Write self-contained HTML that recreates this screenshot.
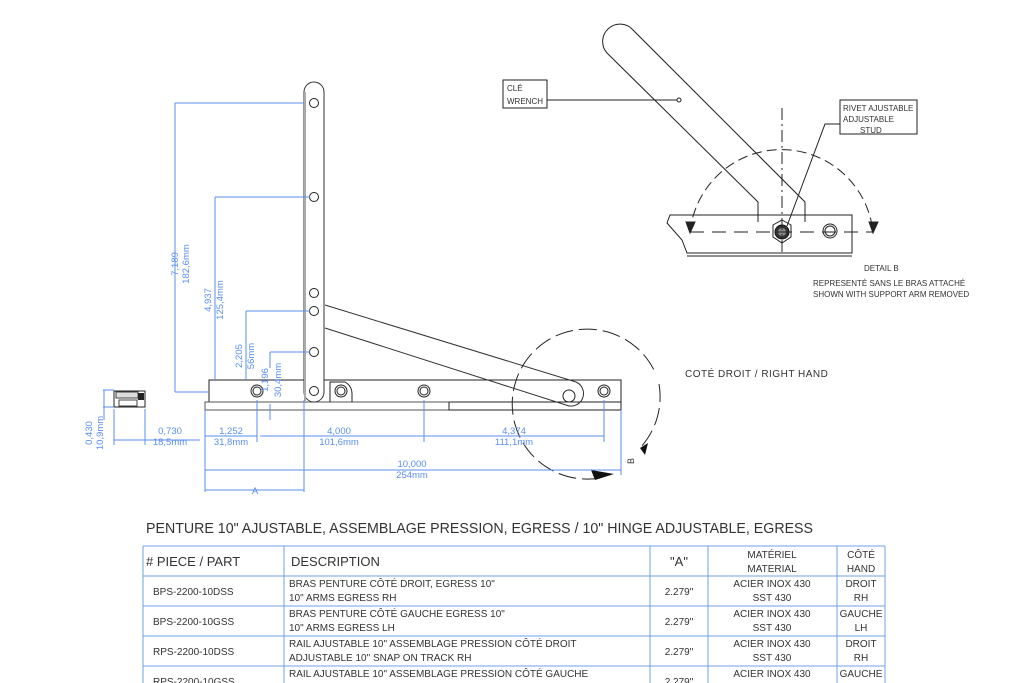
<!DOCTYPE html>
<html><head><meta charset="utf-8"><style>
html,body{margin:0;padding:0;background:#fff;width:1024px;height:683px;overflow:hidden}
svg{display:block}
.b{stroke:#5a8ef0;stroke-width:1;fill:none}
.bt{fill:#5a8ef0;font-family:"Liberation Sans",sans-serif;font-size:9.5px}
.k{stroke:#222;stroke-width:1;fill:none}
.tt{font-family:"Liberation Sans",sans-serif;fill:#333}
</style></head><body>
<svg width="1024" height="683" viewBox="0 0 1024 683" xmlns="http://www.w3.org/2000/svg">
<rect x="209" y="380" width="412" height="22" class="k"/>
<path d="M205 402 H449 V410 H205 Z" fill="#fff" stroke="#555"/>
<path d="M449 402 V410 M449 410 H621 V402" class="k" stroke="#777"/>
<path d="M304 92 A10 10 0 0 1 324 92 V392 A10 10 0 0 1 304 392 Z" fill="#fff" stroke="#333"/>
<line x1="305" y1="92" x2="305" y2="402" stroke="#aaa" stroke-width="2"/>
<g class="k">
<circle cx="314" cy="103" r="4.5"/><circle cx="314" cy="197" r="4.5"/><circle cx="314" cy="293" r="4.5"/>
<circle cx="314" cy="311" r="4.5"/><circle cx="314" cy="352" r="4.5"/><circle cx="314" cy="391" r="4.5"/>
</g>
<path d="M330 402 V382 H345 Q352 386 352 394 V402" class="k"/>
<path d="M325 305 L576 382 A12 12 0 0 1 566 405 L325 328" fill="none" stroke="#333"/>
<g class="k">
<circle cx="257" cy="391" r="6"/><circle cx="257" cy="391" r="4"/>
<circle cx="341" cy="391" r="6"/><circle cx="341" cy="391" r="4"/>
<circle cx="424" cy="391" r="6"/><circle cx="424" cy="391" r="4"/>
<circle cx="569" cy="396" r="6"/>
<circle cx="604" cy="391" r="6"/><circle cx="604" cy="391" r="4"/>
</g>
<path d="M600 478 A75 75 0 1 1 655 372" fill="none" stroke="#222" stroke-dasharray="18 6"/>
<path d="M659 384 A75 75 0 0 1 640 448" fill="none" stroke="#222" stroke-dasharray="18 6"/>
<path d="M591 470 L614 474 L595 480 Z" fill="#111"/>
<path d="M640 448 L645 455 L648 443 Z" fill="#111"/>
<text x="630" y="468" class="tt" font-size="9" transform="rotate(-90 630 464)">B</text>
<rect x="114" y="391" width="31" height="16" fill="#fff" stroke="#222"/>
<rect x="116" y="392" width="22" height="6" fill="#ddd" stroke="#444"/>
<rect x="119" y="400" width="18" height="6" fill="none" stroke="#444"/>
<rect x="138" y="393" width="6" height="7" fill="#222"/>

<g class="b">
<path d="M175 103 H304 M175 103 V392 M175 392 H209"/>
<path d="M215 197 H310 M215 197 V380"/>
<path d="M246 311 H310 M246 311 V380"/>
<path d="M270 352 H310 M270 352 V368 M270 404 V420"/>
<path d="M103 390 H114 M103 407 H114 M104 390 V420"/>
<path d="M114 409 V445 M145 409 V445 M114 440 H145 M145 440 H200"/>
<path d="M205 410 V492 M257 400 V442 M424 400 V442 M604 400 V442 M304 400 V492 M621 410 V475"/>
<path d="M205 436 H257 M260 436 H424 M424 436 H604"/>
<path d="M205 470 H621"/>
<path d="M205 490 H304"/>
</g>
<g class="bt">
<text x="178" y="264" transform="rotate(-90 178 264)" text-anchor="middle">7,189</text>
<text x="189" y="264" transform="rotate(-90 189 264)" text-anchor="middle">182,6mm</text>
<text x="211" y="300" transform="rotate(-90 211 300)" text-anchor="middle">4,937</text>
<text x="223" y="300" transform="rotate(-90 223 300)" text-anchor="middle">125,4mm</text>
<text x="242" y="356" transform="rotate(-90 242 356)" text-anchor="middle">2,205</text>
<text x="254" y="356" transform="rotate(-90 254 356)" text-anchor="middle">56mm</text>
<text x="268" y="380" transform="rotate(-90 268 380)" text-anchor="middle">1,196</text>
<text x="281" y="380" transform="rotate(-90 281 380)" text-anchor="middle">30,4mm</text>
<text x="92" y="433" transform="rotate(-90 92 433)" text-anchor="middle">0,430</text>
<text x="103" y="433" transform="rotate(-90 103 433)" text-anchor="middle">10,9mm</text>
<text x="170" y="434" text-anchor="middle">0,730</text>
<text x="170" y="445" text-anchor="middle">18,5mm</text>
<text x="231" y="434" text-anchor="middle">1,252</text>
<text x="231" y="445" text-anchor="middle">31,8mm</text>
<text x="339" y="434" text-anchor="middle">4,000</text>
<text x="339" y="445" text-anchor="middle">101,6mm</text>
<text x="514" y="434" text-anchor="middle">4,374</text>
<text x="514" y="445" text-anchor="middle">111,1mm</text>
<text x="412" y="467" text-anchor="middle">10,000</text>
<text x="412" y="478" text-anchor="middle">254mm</text>
<text x="255" y="494" text-anchor="middle">A</text>
</g>

<path d="M607 53 A17 17 0 0 1 633 30 L805 202 V220 M607 53 L758 202 V222" fill="none" stroke="#222"/>
<path d="M670 215 H852 V253 H687 L682 240 L667 223 Z" fill="#fff" stroke="#222"/>
<path d="M687 256 H852" stroke="#222"/>
<path d="M758 202 V222 M805 202 V222" stroke="#222"/>
<polygon points="782,220 791,225 791,237 782,243 773,237 773,225" fill="#fff" stroke="#222"/>
<circle cx="782" cy="232" r="7" fill="#333" stroke="#111"/>
<circle cx="782" cy="232" r="4" fill="#888"/>
<circle cx="830" cy="231" r="7" fill="none" stroke="#222"/><circle cx="830" cy="231" r="5" fill="none" stroke="#222"/>
<path d="M690 232 A92 92 0 0 1 873 232" fill="none" stroke="#222" stroke-dasharray="10 5"/>
<path d="M690 232 H873" fill="none" stroke="#222" stroke-dasharray="14 8"/>
<path d="M686 222 L690 233 L695 222 Z M869 222 L873 233 L878 222 Z" fill="#222" stroke="#222"/>
<path d="M782 108 V255" stroke="#222" stroke-dasharray="12 4 2 4"/>
<rect x="503" y="80" width="44" height="28" fill="#fff" stroke="#222"/>
<text x="507" y="91" class="tt" font-size="8" fill="#000">CLÉ</text>
<text x="507" y="104" class="tt" font-size="8" fill="#000">WRENCH</text>
<path d="M547 100 H677" stroke="#222"/><circle cx="679" cy="100" r="2" fill="#fff" stroke="#222"/>
<rect x="840" y="100" width="77" height="34" fill="#fff" stroke="#222"/>
<text x="843" y="111" class="tt" font-size="8" fill="#000">RIVET AJUSTABLE</text>
<text x="843" y="122" class="tt" font-size="8" fill="#000">ADJUSTABLE</text>
<text x="860" y="133" class="tt" font-size="8" fill="#000">STUD</text>
<path d="M840 124 H825 L787 226" fill="none" stroke="#222"/>
<text x="864" y="271" class="tt" font-size="8">DETAIL  B</text>
<text x="813" y="286" class="tt" font-size="8">REPRESENTÉ SANS LE BRAS ATTACHÉ</text>
<text x="813" y="297" class="tt" font-size="8">SHOWN WITH SUPPORT ARM REMOVED</text>
<text x="685" y="377" class="tt" font-size="10" letter-spacing="0.5">COTÉ DROIT / RIGHT HAND</text>

<text x="146" y="533" class="tt" font-size="14.5" fill="#222" textLength="667" lengthAdjust="spacingAndGlyphs">PENTURE 10" AJUSTABLE, ASSEMBLAGE PRESSION, EGRESS / 10" HINGE ADJUSTABLE, EGRESS</text>
<g stroke="#6fa0e8" stroke-width="1" fill="none">
<path d="M143 546 H885 M143 576 H885 M143 606 H885 M143 636 H885 M143 666 H885"/>
<path d="M143 546 V683 M284 546 V683 M650 546 V683 M708 546 V683 M837 546 V683 M885 546 V683"/>
</g>
<g class="tt" font-size="10" fill="#333">
<text x="146" y="566" font-size="13">#  PIECE  /  PART</text>
<text x="291" y="566" font-size="13">DESCRIPTION</text>
<text x="679" y="566" font-size="13" text-anchor="middle">"A"</text>
<text x="772" y="558" text-anchor="middle">MATÉRIEL</text>
<text x="772" y="572" text-anchor="middle">MATERIAL</text>
<text x="861" y="558" text-anchor="middle">CÔTÉ</text>
<text x="861" y="572" text-anchor="middle">HAND</text>

<text x="153" y="595">BPS-2200-10DSS</text>
<text x="289" y="587">BRAS PENTURE CÔTÉ DROIT, EGRESS 10"</text>
<text x="289" y="601">10" ARMS EGRESS  RH</text>
<text x="679" y="595" text-anchor="middle">2.279"</text>
<text x="772" y="587" text-anchor="middle">ACIER INOX 430</text>
<text x="772" y="601" text-anchor="middle">SST 430</text>
<text x="861" y="587" text-anchor="middle">DROIT</text>
<text x="861" y="601" text-anchor="middle">RH</text>

<text x="153" y="625">BPS-2200-10GSS</text>
<text x="289" y="617">BRAS PENTURE CÔTÉ GAUCHE EGRESS 10"</text>
<text x="289" y="631">10" ARMS EGRESS   LH</text>
<text x="679" y="625" text-anchor="middle">2.279"</text>
<text x="772" y="617" text-anchor="middle">ACIER INOX 430</text>
<text x="772" y="631" text-anchor="middle">SST 430</text>
<text x="861" y="617" text-anchor="middle">GAUCHE</text>
<text x="861" y="631" text-anchor="middle">LH</text>

<text x="153" y="655">RPS-2200-10DSS</text>
<text x="289" y="647">RAIL AJUSTABLE 10" ASSEMBLAGE PRESSION CÔTÉ DROIT</text>
<text x="289" y="661">ADJUSTABLE 10" SNAP ON TRACK RH</text>
<text x="679" y="655" text-anchor="middle">2.279"</text>
<text x="772" y="647" text-anchor="middle">ACIER INOX 430</text>
<text x="772" y="661" text-anchor="middle">SST 430</text>
<text x="861" y="647" text-anchor="middle">DROIT</text>
<text x="861" y="661" text-anchor="middle">RH</text>

<text x="153" y="685">RPS-2200-10GSS</text>
<text x="289" y="677">RAIL AJUSTABLE 10" ASSEMBLAGE PRESSION CÔTÉ GAUCHE</text>
<text x="679" y="685" text-anchor="middle">2.279"</text>
<text x="772" y="677" text-anchor="middle">ACIER INOX 430</text>
<text x="861" y="677" text-anchor="middle">GAUCHE</text>
</g>
</svg>
</body></html>
